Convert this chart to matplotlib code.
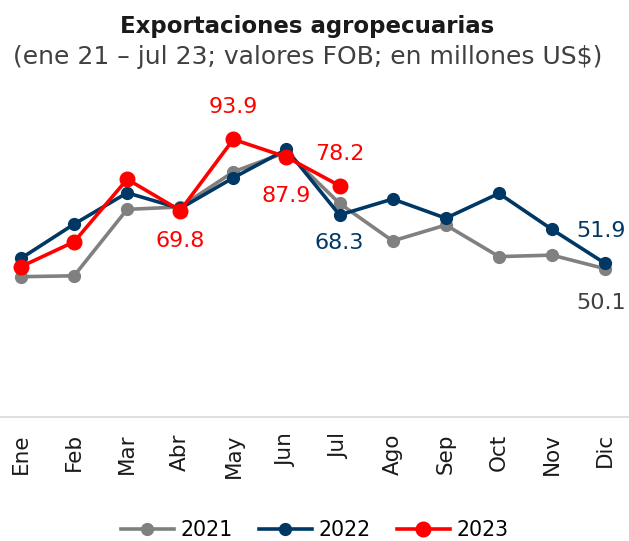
import matplotlib.pyplot as plt

# datos (millones US$)
meses = ['Ene', 'Feb', 'Mar', 'Abr', 'May', 'Jun', 'Jul', 'Ago', 'Sep', 'Oct', 'Nov', 'Dic']
v2021 = [47.4, 47.7, 70.2, 71.0, 82.9, 89.6, 72.2, 59.5, 64.9, 54.2, 54.7, 50.1]
v2022 = [53.6, 65.2, 75.8, 70.5, 80.9, 90.5, 68.3, 73.7, 67.2, 75.6, 63.4, 51.9]
v2023 = [50.8, 59.2, 80.4, 69.8, 93.9, 87.9, 78.2]

gris = '#808080'
azul = '#003865'
rojo = '#ff0000'

plt.rcParams['font.family'] = ['DejaVu Sans']

fig = plt.figure(figsize=(6.29, 5.41), dpi=100)
ax = fig.add_axes([0, 0.2298, 1, 0.6005])

x = list(range(len(meses)))
ax.plot(x, v2021, color=gris, lw=2.6, marker='o', ms=8.5, label='2021', zorder=2)
ax.plot(x, v2022, color=azul, lw=2.6, marker='o', ms=8.5, label='2022', zorder=3)
ax.plot(x[:len(v2023)], v2023, color=rojo, lw=2.6, marker='o', ms=10.5, label='2023', zorder=4)

# etiquetas de datos
def etiqueta(i, v, color, dy, dx=0):
    ax.annotate(f'{v:.1f}', (i, v), xytext=(dx, dy), textcoords='offset points',
                ha='center', va='center', fontsize=16, color=color)

etiqueta(4, v2023[4], rojo, 23)
etiqueta(5, v2023[5], rojo, -28)
etiqueta(6, v2023[6], rojo, 23)
etiqueta(3, v2023[3], rojo, -22)
etiqueta(6, v2022[6], azul, -20)
etiqueta(11, v2022[11], azul, 23, -3)
etiqueta(11, v2021[11], '#404040', -25, -3)

ax.set_xlim(-0.395, 11.45)
ax.set_ylim(0, 110)
ax.set_yticks([])
ax.set_xticks(x)
ax.set_xticklabels(meses, rotation=90, fontsize=15.5, color='#1a1a1a')
ax.tick_params(axis='x', length=0, pad=12)
for s in ['top', 'right', 'left']:
    ax.spines[s].set_visible(False)
ax.spines['bottom'].set_color('#d9d9d9')
ax.spines['bottom'].set_linewidth(1.2)

fig.text(0.489, 0.939, 'Exportaciones agropecuarias', ha='center', va='baseline',
         fontsize=16.5, fontweight='bold', color='#1a1a1a')
fig.text(0.489, 0.882, '(ene 21 \u2013 jul 23; valores FOB; en millones US$)', ha='center',
         va='baseline', fontsize=18, color='#404040')

fig.legend(loc='center', bbox_to_anchor=(0.5, 0.02), ncol=3, frameon=False,
           fontsize=14.8, handlelength=2.6, handletextpad=0.3, columnspacing=1.27)

fig.savefig('out.png', dpi=100)
